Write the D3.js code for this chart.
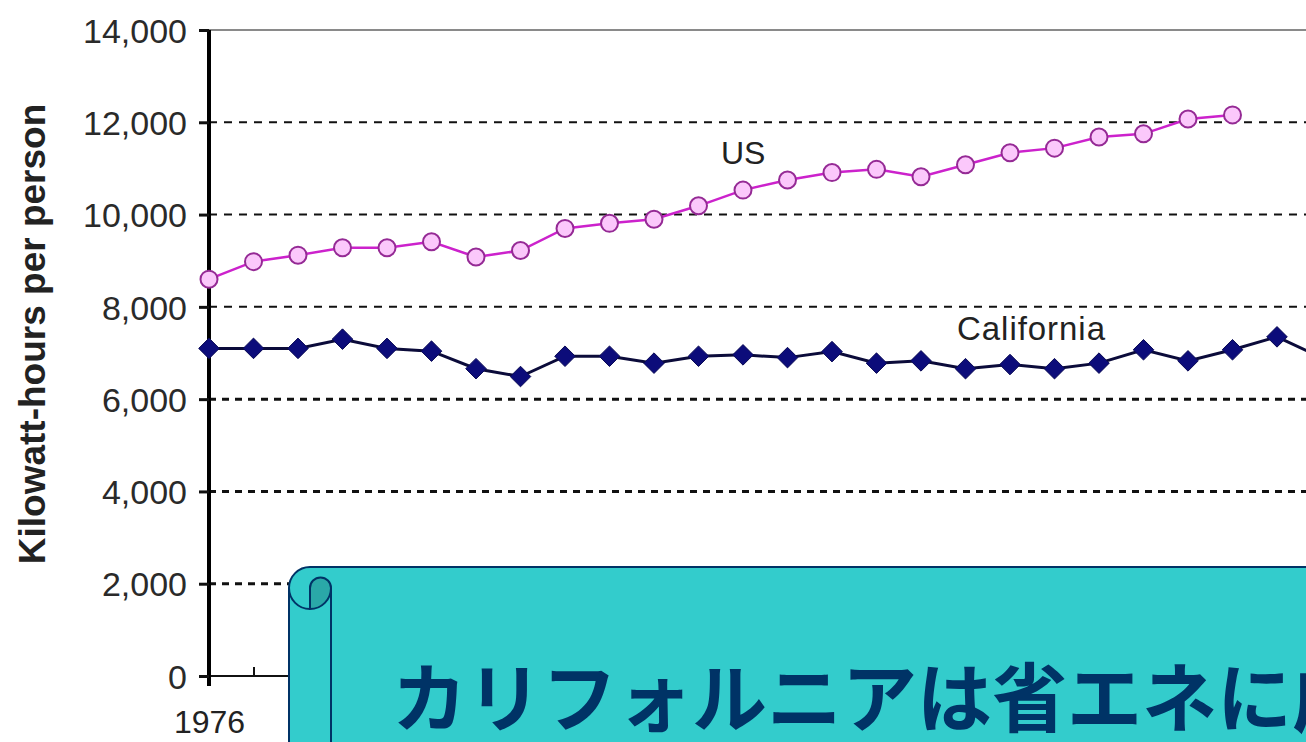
<!DOCTYPE html>
<html>
<head>
<meta charset="utf-8">
<script src="https://cdn.jsdelivr.net/npm/d3@7/dist/d3.min.js"></script>
<style>
  html, body { margin: 0; padding: 0; background: #ffffff; overflow: hidden; }
  svg { display: block; }
</style>
</head>
<body>
<svg id="chart" width="1306" height="742"></svg>
<script>
// ---- data ----
const years = [1976,1977,1978,1979,1980,1981,1982,1983,1984,1985,1986,1987,1988,1989,1990,1991,1992,1993,1994,1995,1996,1997,1998,1999,2000,2001];
const usValues = [8600,8980,9120,9280,9280,9410,9080,9220,9700,9810,9900,10190,10530,10750,10910,10980,10820,11080,11340,11440,11680,11750,12070,12160];
const caValues = [7100,7100,7100,7300,7100,7040,6660,6490,6930,6930,6780,6930,6960,6900,7030,6780,6830,6660,6750,6660,6780,7070,6830,7070,7350,6900];
const yTicks = [0,2000,4000,6000,8000,10000,12000,14000];
const xLabelYears = [1976];
const yTitle = "Kilowatt-hours per person";
const seriesNames = ["US", "California"];
const bannerText = "カリフォルニアは省エネに成功";

// ---- scales ----
const svg = d3.select("#chart");
const x = d3.scaleLinear().domain([1976, 2000]).range([209, 1277]);
const y = d3.scaleLinear().domain([0, 14000]).range([676, 30]);
const rightEdge = 1306;

// gridlines
const grid = svg.append("g");
yTicks.filter(v => v > 0 && v < 14000).forEach(v => {
  grid.append("line")
    .attr("x1", x(1976)).attr("x2", rightEdge)
    .attr("y1", y(v)).attr("y2", y(v))
    .attr("stroke", "#111")
    .attr("stroke-width", v <= 6000 ? 3 : 2)
    .attr("stroke-dasharray", v <= 6000 ? "7,6" : "8,7");
});
// top border line at 14000
svg.append("line")
  .attr("x1", x(1976)).attr("x2", rightEdge)
  .attr("y1", y(14000)).attr("y2", y(14000))
  .attr("stroke", "#8a8a8a").attr("stroke-width", 2);

// x axis
const xTickYears = d3.range(1976, 2003);
const xAxis = d3.axisBottom(x)
  .tickValues(xTickYears)
  .tickSizeInner(-9).tickSizeOuter(0)
  .tickFormat(d => xLabelYears.includes(d) ? String(d) : "");
const gx = svg.append("g").attr("transform", `translate(0,${y(0)})`).call(xAxis);
gx.select(".domain").attr("d", `M199,0H${rightEdge}`).attr("stroke", "#111").attr("stroke-width", 2);
gx.selectAll(".tick line").attr("stroke", "#111").attr("stroke-width", 2);
gx.selectAll(".tick text")
  .attr("y", 57).attr("dy", 0)
  .style("font-family", "'Liberation Sans', Arial, sans-serif")
  .style("font-size", "32px").attr("fill", "#222");

// y axis
const yAxis = d3.axisLeft(y)
  .tickValues(yTicks)
  .tickSizeInner(10).tickSizeOuter(0)
  .tickFormat(d3.format(","));
const gy = svg.append("g").attr("transform", `translate(${x(1976)},0)`).call(yAxis);
gy.select(".domain").attr("d", `M0,${y(14000)}V${y(0) + 10}`).attr("stroke", "#000").attr("stroke-width", 4);
gy.selectAll(".tick line").attr("stroke", "#111").attr("stroke-width", 3);
gy.selectAll(".tick text")
  .attr("x", -22).attr("dy", "0.36em")
  .style("font-family", "'Liberation Sans', Arial, sans-serif")
  .style("font-size", "34px").attr("fill", "#2a2a2a");

// y axis title
svg.append("text")
  .attr("transform", `translate(45,334) rotate(-90)`)
  .attr("text-anchor", "middle")
  .style("font-family", "'Liberation Sans', Arial, sans-serif")
  .style("font-weight", "bold")
  .style("font-size", "37px")
  .attr("fill", "#222")
  .text(yTitle);

// ---- series ----
const usData = usValues.map((v, i) => ({ year: years[i], value: v }));
const caData = caValues.map((v, i) => ({ year: years[i], value: v }));
const line = d3.line().x(d => x(d.year)).y(d => y(d.value));

// California
svg.append("path").datum(caData)
  .attr("d", line).attr("fill", "none")
  .attr("stroke", "#0b0b3a").attr("stroke-width", 3);
svg.append("g").selectAll("path").data(caData).join("path")
  .attr("d", d3.symbol(d3.symbolDiamond2, 270))
  .attr("transform", d => `translate(${x(d.year)},${y(d.value)})`)
  .attr("fill", "#0c0c7a").attr("stroke", "#0a0a55").attr("stroke-width", 1);

// US
svg.append("path").datum(usData)
  .attr("d", line).attr("fill", "none")
  .attr("stroke", "#cc22cc").attr("stroke-width", 2.5);
svg.append("g").selectAll("circle").data(usData).join("circle")
  .attr("cx", d => x(d.year)).attr("cy", d => y(d.value))
  .attr("r", 8.5)
  .attr("fill", "#fbc8fb").attr("stroke", "#952a95").attr("stroke-width", 2);

// series labels
svg.append("text").attr("x", 721).attr("y", 164)
  .style("font-family", "'Liberation Sans', Arial, sans-serif")
  .style("font-size", "32px").attr("fill", "#222").text(seriesNames[0]);
svg.append("text").attr("x", 957).attr("y", 340)
  .style("font-family", "'Liberation Sans', Arial, sans-serif")
  .style("font-size", "33px").attr("fill", "#222")
  .attr("textLength", 148).attr("lengthAdjust", "spacing")
  .text(seriesNames[1]);

// ---- scroll banner ----
const b = svg.append("g");
const teal = "#33cccc", navy = "#003366";
b.append("path")
  .attr("d", "M310,567 L1330,567 L1330,770 L289,770 L289,588 A21,21 0 0 1 310,567 Z")
  .attr("fill", teal).attr("stroke", navy).attr("stroke-width", 2);
b.append("path")
  .attr("d", "M331,588 L331,770")
  .attr("fill", "none").attr("stroke", navy).attr("stroke-width", 2);
b.append("path")
  .attr("d", "M289,588 A21,21 0 0 0 310,609")
  .attr("fill", "none").attr("stroke", navy).attr("stroke-width", 2);
b.append("path")
  .attr("d", "M310,609 L310,588 A10.5,10.5 0 0 1 331,588 A21,21 0 0 1 310,609 Z")
  .attr("fill", "#2aa8a8").attr("stroke", navy).attr("stroke-width", 2);
b.append("text")
  .attr("x", 392).attr("y", 726)
  .style("font-family", "'Noto Sans CJK JP', sans-serif")
  .style("font-weight", "bold")
  .style("font-size", "75px")
  .attr("fill", navy)
  .text(bannerText);
</script>
</body>
</html>
